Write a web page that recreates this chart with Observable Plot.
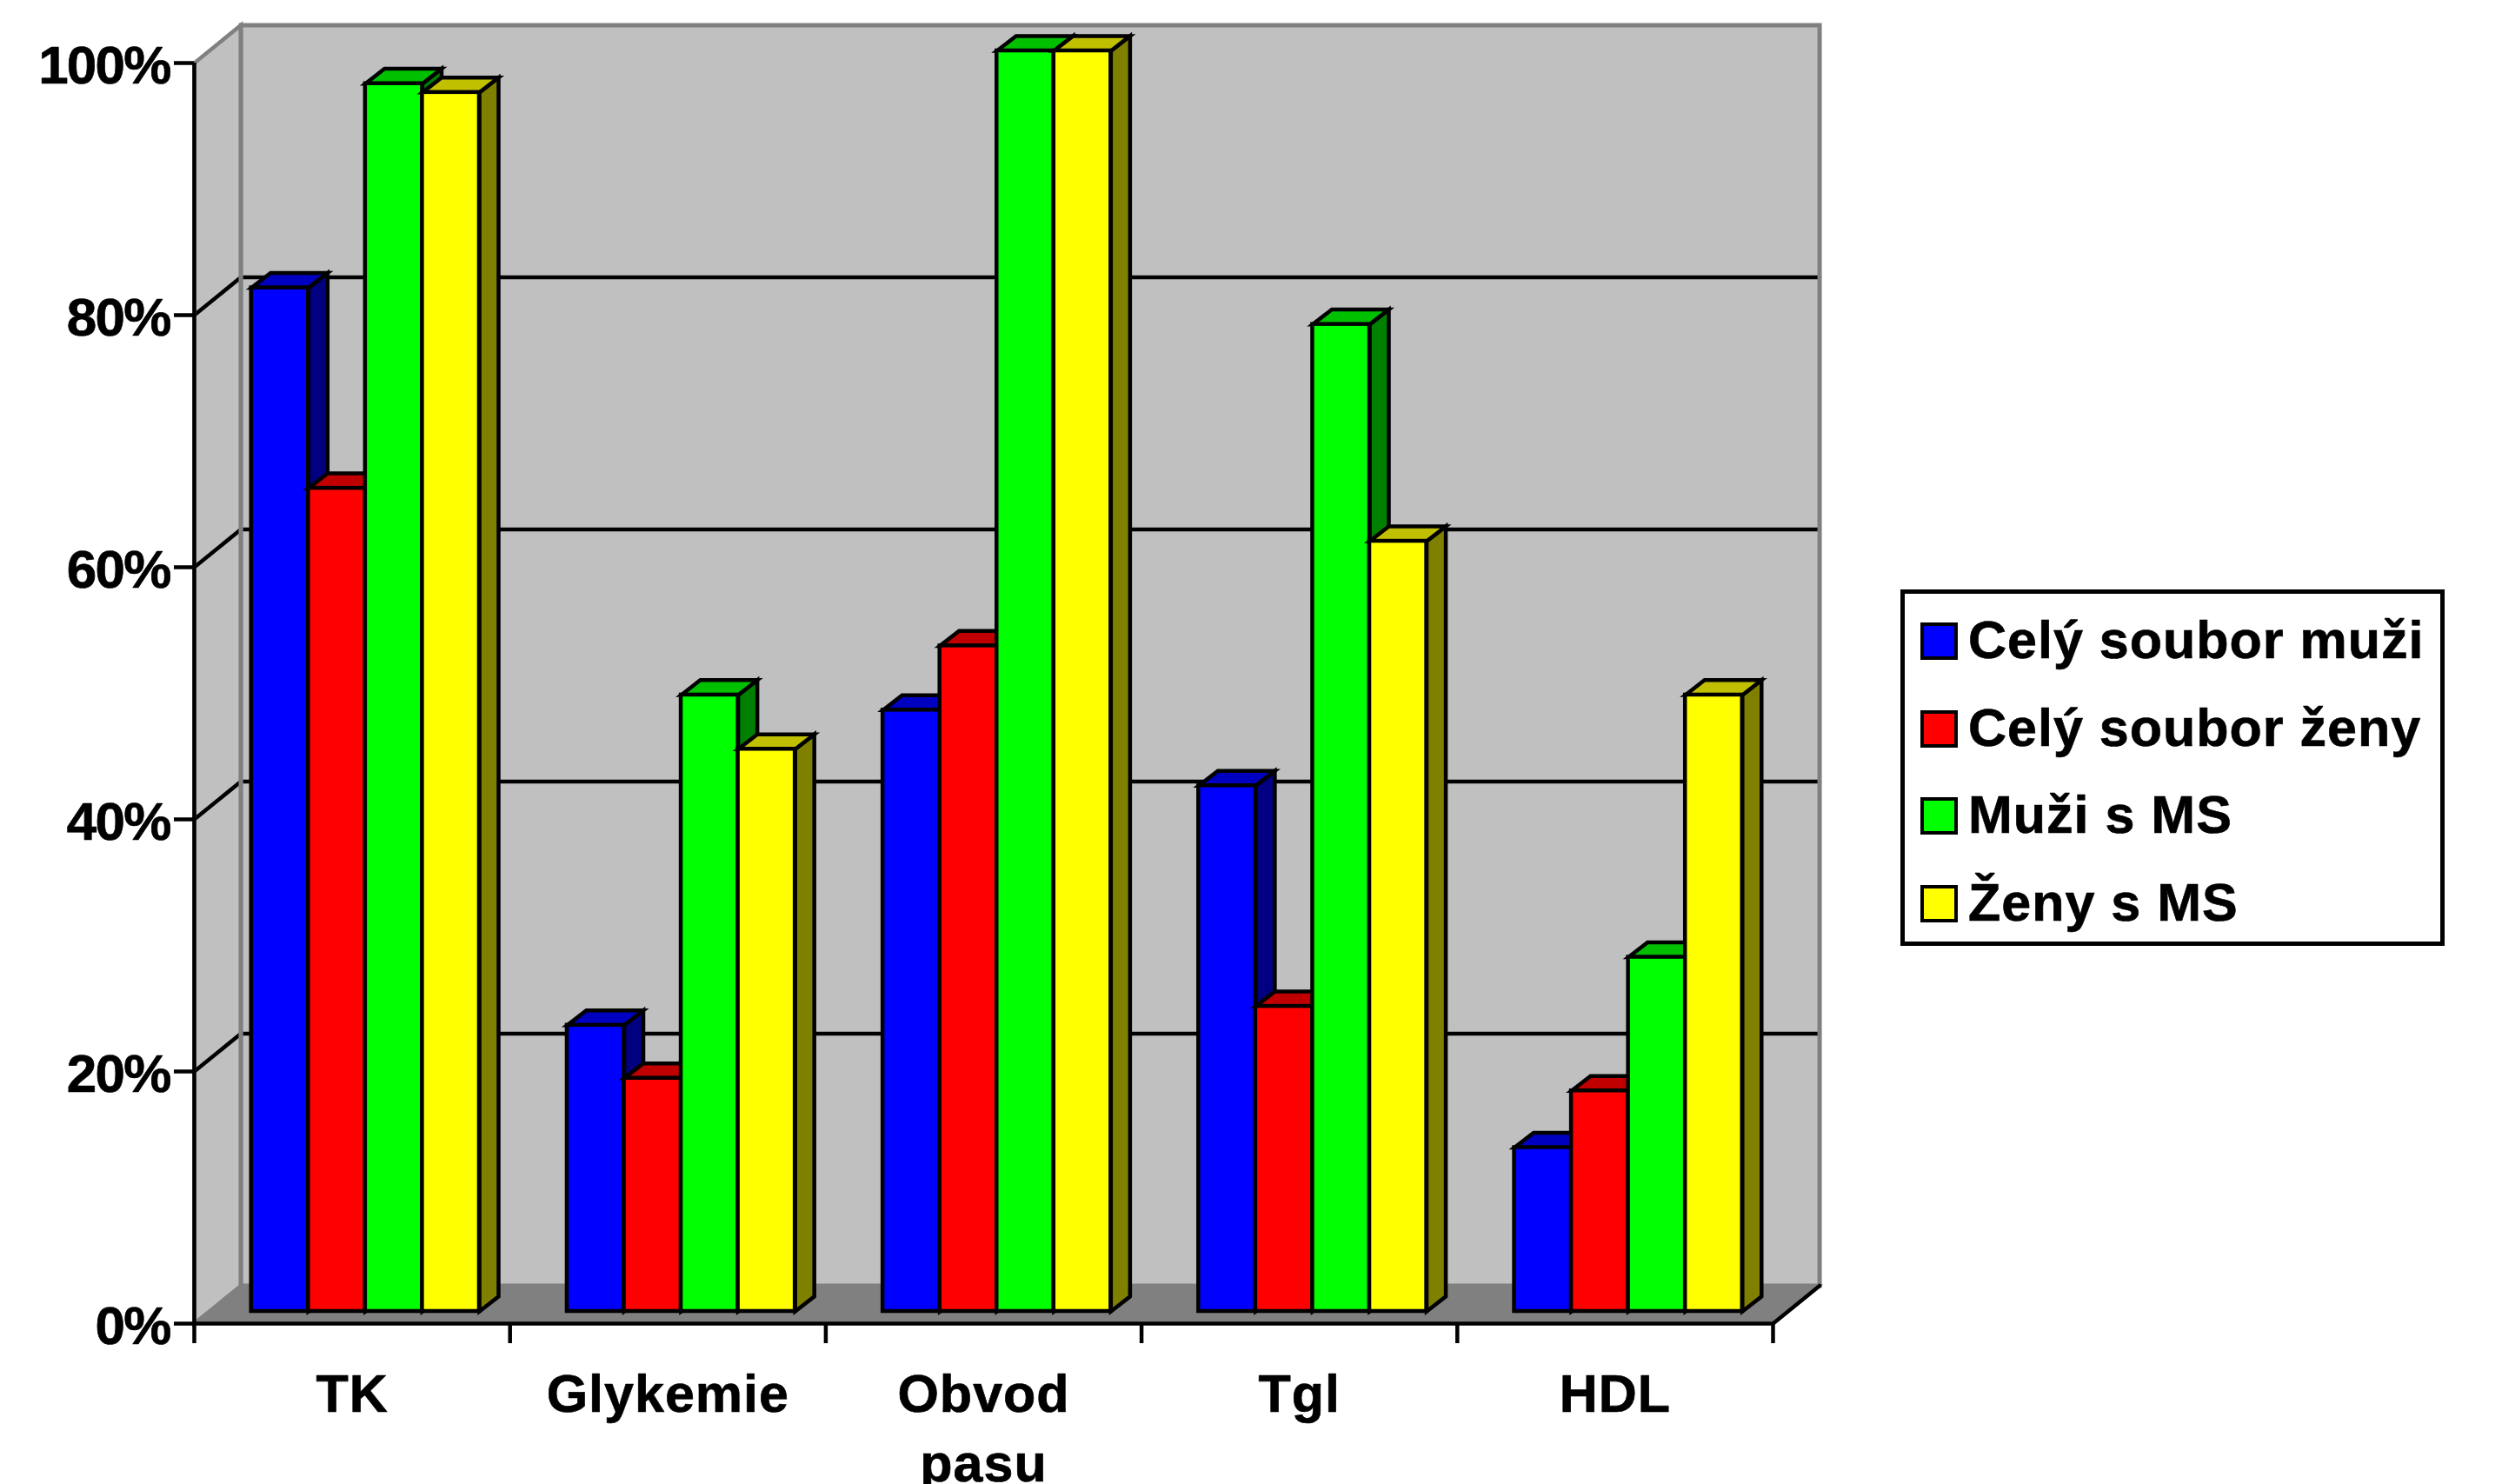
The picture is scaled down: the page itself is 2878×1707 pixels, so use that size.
<!DOCTYPE html>
<html>
<head>
<meta charset="utf-8">
<script src="https://cdn.jsdelivr.net/npm/d3@7"></script>
<script src="https://cdn.jsdelivr.net/npm/@observablehq/plot@0.6"></script>
<style>
html,body{margin:0;padding:0;background:#fff;}
#wrap{position:relative;width:2878px;height:1707px;overflow:hidden;font-family:"Liberation Sans",Arial,sans-serif;}
#wrap svg{display:block;}
#legend{position:absolute;left:2186px;top:678px;width:626px;height:410px;box-sizing:border-box;border:5px solid #000;background:#fff;}
.row{position:absolute;left:18px;height:44px;}
.sw{position:absolute;left:0;top:0;width:43px;height:43px;box-sizing:border-box;border:4px solid #000;}
.lb{position:absolute;left:55px;top:-15px;white-space:nowrap;font-size:61px;line-height:70px;font-weight:bold;letter-spacing:1px;color:#000;-webkit-text-stroke:0.7px #000;}
</style>
</head>
<body>
<div id="wrap"></div>
<script>
const categories = ["TK", "Glykemie", "Obvod\npasu", "Tgl", "HDL"];
const seriesNames = ["Celý soubor muži", "Celý soubor ženy", "Muži s MS", "Ženy s MS"];
const celySouborMuzi = [81.2, 22.7, 47.7, 41.7, 13.0];
const celySouborZeny = [65.3, 18.5, 52.8, 24.2, 17.5];
const muziSMS = [97.4, 48.9, 100, 78.3, 28.1];
const zenySMS = [96.7, 44.6, 100, 61.1, 48.9];
const seriesValues = [celySouborMuzi, celySouborZeny, muziSMS, zenySMS];
const frontColors = ["#0000ff", "#ff0000", "#00ff00", "#ffff00"];
const topColors = ["#0000c0", "#c00000", "#00c000", "#c0c000"];
const sideColors = ["#000080", "#800000", "#008000", "#808000"];
const yTicks = [0, 20, 40, 60, 80, 100];
const gridValues = [20, 40, 60, 80];

const wallDX = 0.1475, wallDY = 3.0;
const groupOffset = 0.181, barW = 0.1805;
const barDX = 0.0606, barDY = 1.18;
const n = categories.length;

function poly(id, pts){ return pts.map(([x, y]) => ({id, x, y})); }
const closed = {x: "x", y: "y", z: "id", curve: "linear-closed", strokeLinejoin: "miter", strokeMiterlimit: 6};

const backWall = poly("b", [[wallDX, wallDY], [n + wallDX, wallDY], [n + wallDX, 100 + wallDY], [wallDX, 100 + wallDY]]);
const leftWall = poly("l", [[0, 0], [wallDX, wallDY], [wallDX, 100 + wallDY], [0, 100]]);
const floor = poly("f", [[0, 0], [n, 0], [n + wallDX, wallDY], [wallDX, wallDY]]);
const gridRows = gridValues.flatMap(v => poly(v, [[0, v], [wallDX, v + wallDY], [n + wallDX, v + wallDY]]));

const marks = [
  Plot.line(backWall, {...closed, fill: "#c0c0c0", stroke: "none"}),
  Plot.line(leftWall, {...closed, fill: "#c0c0c0", stroke: "none"}),
  Plot.line(gridRows, {x: "x", y: "y", z: "id", stroke: "#000", strokeWidth: 4.5}),
  Plot.line(backWall, {...closed, fill: "none", stroke: "#808080", strokeWidth: 5}),
  Plot.line(leftWall, {...closed, fill: "none", stroke: "#808080", strokeWidth: 4.5}),
  Plot.line(floor, {...closed, fill: "#808080", stroke: "#808080", strokeWidth: 3}),
  Plot.line(poly("e", [[n, 0], [n + wallDX, wallDY]]), {x: "x", y: "y", stroke: "#000", strokeWidth: 4.5}),
];

seriesValues.forEach((vals, s) => {
  const rows = vals.map((v, i) => {
    const xl = i + groupOffset + s * barW;
    return {i, v, xl, xr: xl + barW};
  });
  const sides = rows.flatMap(r => poly(r.i, [[r.xr, 0], [r.xr + barDX, barDY], [r.xr + barDX, r.v + barDY], [r.xr, r.v]]));
  const tops = rows.flatMap(r => poly(r.i, [[r.xl, r.v], [r.xl + barDX, r.v + barDY], [r.xr + barDX, r.v + barDY], [r.xr, r.v]]));
  const common = {stroke: "#000", strokeWidth: 4.5, dy: -14};
  marks.push(
    Plot.line(sides, {...closed, ...common, fill: sideColors[s]}),
    Plot.line(tops, {...closed, ...common, fill: topColors[s]}),
    Plot.rect(rows, {x1: "xl", x2: "xr", y1: 0, y2: "v", fill: frontColors[s], ...common})
  );
});

marks.push(
  Plot.axisY({ticks: yTicks, tickSize: 23, tickFormat: () => "", strokeWidth: 4.5, stroke: "#000", label: null}),
  Plot.axisX({ticks: d3.range(n + 1), tickSize: 23, tickFormat: () => "", strokeWidth: 4.5, stroke: "#000", label: null}),
  Plot.ruleX([0], {y1: 0, y2: 100, stroke: "#000", strokeWidth: 4.5}),
  Plot.ruleY([0], {x1: 0, x2: n, stroke: "#000", strokeWidth: 4.5}),
  Plot.text(yTicks, {x: 0, y: d => d, text: d => d + "%", dx: -28, dy: 3.5, textAnchor: "end", fontSize: 62, fontWeight: "bold", fill: "#000", stroke: "#000", strokeWidth: 0.7}),
  Plot.text(categories, {x: (d, i) => i + 0.5, y: 0, text: d => d, dy: 45, lineAnchor: "top", lineHeight: 1.31, fontSize: 61, fontWeight: "bold", fill: "#000", stroke: "#000", strokeWidth: 0.7})
);

const chart = Plot.plot({
  width: 2878, height: 1707,
  marginLeft: 223, marginRight: 839, marginTop: 72, marginBottom: 185,
  x: {domain: [0, n], type: "linear"},
  y: {domain: [0, 100]},
  style: {background: "#fff", fontFamily: "'Liberation Sans', Arial, sans-serif", maxWidth: "none", overflow: "visible"},
  marks
});
const wrap = document.getElementById("wrap");
wrap.appendChild(chart);
const textGroups = chart.querySelectorAll('g[aria-label="text"]');
if (textGroups[0]) textGroups[0].style.letterSpacing = "-1.8px";
if (textGroups[1]) textGroups[1].style.letterSpacing = "1px";

const legend = document.createElement("div");
legend.id = "legend";
seriesNames.forEach((name, s) => {
  const row = document.createElement("div");
  row.className = "row";
  row.style.top = (33 + s * 100.7) + "px";
  const sw = document.createElement("div");
  sw.className = "sw";
  sw.style.background = frontColors[s];
  const lb = document.createElement("div");
  lb.className = "lb";
  lb.textContent = name;
  row.append(sw, lb);
  legend.appendChild(row);
});
wrap.appendChild(legend);
</script>
</body>
</html>
